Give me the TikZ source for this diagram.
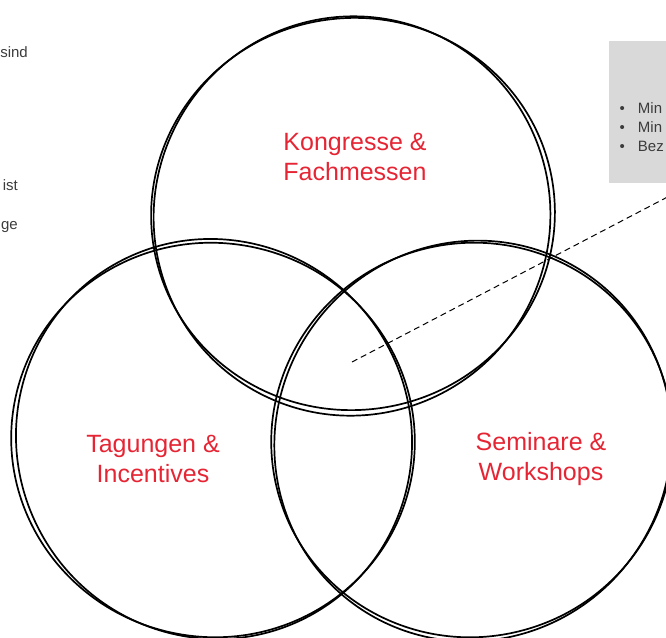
\documentclass[tikz,border=0pt]{standalone}
\usepackage{fontspec}
\setmainfont{Liberation Sans}
\usetikzlibrary{calc}

\definecolor{fieldred}{RGB}{230,37,52}
\definecolor{boxgray}{RGB}{217,217,217}
\definecolor{notegray}{RGB}{60,60,60}

\tikzset{
  ring/.style={line width=1.7pt, line join=round},
  fieldtext/.style={text=fieldred, align=center, font=\fontsize{25}{30}\selectfont},
  notetext/.style={text=notegray, font=\fontsize{15}{19}\selectfont, inner sep=0pt},
}

\begin{document}
\begin{tikzpicture}[x=1pt,y=-1pt]
\useasboundingbox (0,0) rectangle (666,637);
\clip (0,0) rectangle (666,637);

% grey note box at the right edge
\node[fill=boxgray, anchor=north west, inner sep=0pt,
      minimum width=160pt, minimum height=142pt] (box) at (609,41) {};
\node[notetext, anchor=base west] (b1) at (619.5,113) {\textbullet\hspace{13pt}Min};
\node[notetext, anchor=base west] (b2) at (619.5,132) {\textbullet\hspace{13pt}Min};
\node[notetext, anchor=base west] (b3) at (619.5,151) {\textbullet\hspace{13pt}Bez};

% text running in from the left
\node[notetext, anchor=base east] (t1) at (28,57) {sind};
\node[notetext, anchor=base east] (t2) at (18,190) {ist};
\node[notetext, anchor=base east] (t3) at (18,229) {ge};

% the three fields, each drawn twice for the sketchy look
\coordinate (top) at (353,214);
\coordinate (left) at (213,440);
\coordinate (right) at (472,440);

\draw[ring] (top) ellipse [x radius=202, y radius=196, rotate=8];
\draw[ring] ($(top)+(-1,2)$) ellipse [x radius=198, y radius=200, rotate=-25];
\draw[ring] (left) ellipse [x radius=202, y radius=197, rotate=-12];
\draw[ring] ($(left)+(1,-1)$) ellipse [x radius=197, y radius=201, rotate=30];
\draw[ring] (right) ellipse [x radius=201, y radius=197, rotate=15];
\draw[ring] ($(right)+(1,1)$) ellipse [x radius=197, y radius=202, rotate=-35];

\node[fieldtext] (kongresse) at (355,157) {Kongresse \&\\Fachmessen};
\node[fieldtext] (tagungen) at (153,459) {Tagungen \&\\Incentives};
\node[fieldtext] (seminare) at (541,459) {Seminare \&\\Workshops};

% pointer from the common middle to the box
\coordinate (mid) at (352,362);
\coordinate (tip) at (700,180);
\draw[line width=1pt, dash pattern=on 6pt off 4pt] (mid) -- (tip);
\end{tikzpicture}
\end{document}
